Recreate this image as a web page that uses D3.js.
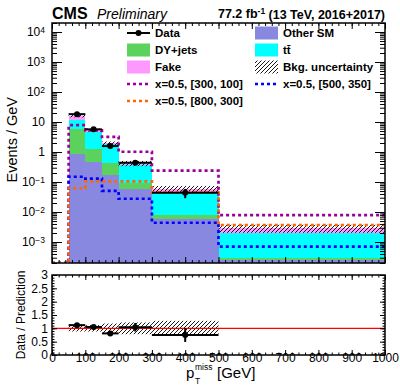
<!DOCTYPE html>
<html>
<head>
<meta charset="utf-8">
<script src="https://d3js.org/d3.v7.min.js"></script>
<style>
  body { margin: 0; background: #fff; }
  text { font-family: 'Liberation Sans', Arial, sans-serif; fill: #000; }
  .axis path { display: none; }
  .axis .tick line { stroke: #000; stroke-width: 1; }
  .axis .tick text { font-size: 12px; }
  .legend text { font-size: 11.5px; font-weight: bold; }
</style>
</head>
<body>
<script>
// ---- data ----
const binEdges = [50, 100, 150, 200, 300, 500, 1000];
const otherSM = [0.84, 0.48, 0.17, 0.057, 0.0057, 0.00025];
const dyJets  = [5.0, 0.75, 0.25, 0.034, 0.0022, 0.00005];
const ttbar   = [5.9, 3.3, 1.38, 0.29, 0.034, 0.00165];
const fake    = [4.5, 0.9, 0.15, 0.04, 0.016, 0.00095];
const bkgUnc  = [0.12, 0.12, 0.15, 0.2, 0.28, 0.3];
const dataVal = [18.3, 5.7, 1.58, 0.44, 0.044];
const dataErr = [0.6, 0.35, 0.18, 0.066, 0.015];

const sigEdges   = [0, 50, 100, 150, 200, 300, 500, 1000];
const sig300_100 = [0, 7.9, 5.3, 3.2, 1.02, 0.24, 0.0079];
const sig800_300 = [0, 0.062, 0.105, 0.105, 0.105, 0.045, 0.0037];
const sig500_350 = [0, 0.15, 0.13, 0.051, 0.0277, 0.0044, 0.0007];

const ratioVal = [1.12, 1.05, 0.81, 1.04, 0.75];
const ratioErr = [0.05, 0.05, 0.05, 0.16, 0.26];
const ratioUnc = [0.12, 0.12, 0.18, 0.22, 0.28];

const logTicks   = [1e4, 1e3, 1e2, 10, 1, 0.1, 0.01, 0.001];
const logLabels  = [['10','4'], ['10','3'], ['10','2'], ['10',''], ['1',''], ['10','\u22121'], ['10','\u22122'], ['10','\u22123']];
const xTicks     = [0, 100, 200, 300, 400, 500, 600, 700, 800, 900, 1000];
const ratioTicks = [0, 0.5, 1, 1.5, 2, 2.5, 3];

const colors = { other: '#8888e0', dy: '#5bd25b', tt: '#00ffff', fake: '#ff99ff' };
const sigColors = { a: '#990099', b: '#ff6600', c: '#0000ff' };

// ---- layout ----
const W = 400, H = 387;
const left = 52, right = 385;
const topY0 = 23, topY1 = 263;
const botY0 = 275, botY1 = 355;

const svg = d3.select('body').append('svg').attr('width', W).attr('height', H);

const x = d3.scaleLinear().domain([0, 1000]).range([left, right]);
const y = d3.scaleLog().domain([2e-4, 2e4]).range([topY1, topY0]).clamp(true);
const yr = d3.scaleLinear().domain([0, 3]).range([botY1, botY0]);
const yv = v => y(Math.max(v, y.domain()[0]));

const defs = svg.append('defs');
const pat = defs.append('pattern').attr('id', 'hatch')
  .attr('patternUnits', 'userSpaceOnUse').attr('width', 4).attr('height', 4);
pat.append('path').attr('d', 'M-1,1 l2,-2 M0,4 l4,-4 M3,5 l2,-2')
  .attr('stroke', '#000').attr('stroke-width', 0.9);
defs.append('clipPath').attr('id', 'clipTop').append('rect')
  .attr('x', left).attr('y', topY0).attr('width', right - left).attr('height', topY1 - topY0);
defs.append('clipPath').attr('id', 'clipBot').append('rect')
  .attr('x', left).attr('y', botY0).attr('width', right - left).attr('height', botY1 - botY0);

// ---- top panel ----
const bins = binEdges.slice(0, -1).map((lo, i) => ({
  lo, hi: binEdges[i + 1],
  other: otherSM[i], dy: dyJets[i], tt: ttbar[i], fake: fake[i]
}));
const series = d3.stack().keys(['other', 'dy', 'tt', 'fake'])(bins);

const gTop = svg.append('g').attr('clip-path', 'url(#clipTop)');
series.forEach(s => {
  gTop.append('g').attr('fill', colors[s.key]).attr('shape-rendering', 'crispEdges')
    .selectAll('rect').data(s).join('rect')
      .attr('x', d => x(d.data.lo))
      .attr('width', d => x(d.data.hi) - x(d.data.lo))
      .attr('y', d => yv(d[1]))
      .attr('height', d => yv(d[0]) - yv(d[1]));
});

// bkg uncertainty band
const totals = series[series.length - 1].map(d => d[1]);
gTop.append('g').selectAll('rect').data(bins).join('rect')
  .attr('fill', 'url(#hatch)')
  .attr('x', d => x(d.lo))
  .attr('width', d => x(d.hi) - x(d.lo))
  .attr('y', (d, i) => yv(totals[i] * (1 + bkgUnc[i])))
  .attr('height', (d, i) => yv(totals[i] * (1 - bkgUnc[i])) - yv(totals[i] * (1 + bkgUnc[i])));

// signal step lines
const stepLine = d3.line().curve(d3.curveStepAfter).x(d => x(d[0])).y(d => yv(d[1]));
function sigPts(vals) {
  const p = vals.map((v, i) => [sigEdges[i], v]);
  p.push([sigEdges[sigEdges.length - 1], vals[vals.length - 1]]);
  return p;
}
[[sig300_100, sigColors.a], [sig500_350, sigColors.c], [sig800_300, sigColors.b]].forEach(([vals, c]) => {
  gTop.append('path').attr('d', stepLine(sigPts(vals)))
    .attr('fill', 'none').attr('stroke', c)
    .attr('stroke-width', 2.7).attr('stroke-dasharray', '3,3');
});

// data points
const dataPts = dataVal.map((v, i) => ({ lo: binEdges[i], hi: binEdges[i + 1], v, e: dataErr[i] }));
const gData = gTop.append('g');
gData.selectAll('.hbar').data(dataPts).join('line')
  .attr('x1', d => x(d.lo)).attr('x2', d => x(d.hi))
  .attr('y1', d => y(d.v)).attr('y2', d => y(d.v))
  .attr('stroke', '#000').attr('stroke-width', 2);
gData.selectAll('.vbar').data(dataPts).join('line')
  .attr('x1', d => x((d.lo + d.hi) / 2)).attr('x2', d => x((d.lo + d.hi) / 2))
  .attr('y1', d => y(d.v + d.e)).attr('y2', d => y(d.v - d.e))
  .attr('stroke', '#000').attr('stroke-width', 2);
gData.selectAll('circle').data(dataPts).join('circle')
  .attr('cx', d => x((d.lo + d.hi) / 2)).attr('cy', d => y(d.v)).attr('r', 3).attr('fill', '#000');

// top axes
const minorLog = y.ticks().filter(t => !logTicks.some(m => Math.abs(m - t) / m < 1e-6));
const minorX = x.ticks(50);

const yAxisG = svg.append('g').attr('class', 'axis').attr('transform', `translate(${left},0)`)
  .call(d3.axisLeft(y).tickValues(logTicks).tickSize(-10).tickPadding(7).tickFormat(''));
yAxisG.selectAll('.tick text').each(function(d, i) {
  const t = d3.select(this).attr('text-anchor', 'end');
  t.append('tspan').text(logLabels[i][0]);
  if (logLabels[i][1]) t.append('tspan').attr('dy', '-0.45em').style('font-size', '8.5px').text(logLabels[i][1]);
});
svg.append('g').attr('class', 'axis').attr('transform', `translate(${left},0)`)
  .call(d3.axisLeft(y).tickValues(minorLog).tickSize(-5).tickFormat(''));
svg.append('g').attr('class', 'axis').attr('transform', `translate(${right},0)`)
  .call(d3.axisRight(y).tickValues(logTicks).tickSize(-10).tickFormat(''));
svg.append('g').attr('class', 'axis').attr('transform', `translate(${right},0)`)
  .call(d3.axisRight(y).tickValues(minorLog).tickSize(-5).tickFormat(''));
svg.append('g').attr('class', 'axis').attr('transform', `translate(0,${topY1})`)
  .call(d3.axisBottom(x).tickValues(xTicks).tickSize(-6).tickFormat(''));
svg.append('g').attr('class', 'axis').attr('transform', `translate(0,${topY1})`)
  .call(d3.axisBottom(x).tickValues(minorX).tickSize(-3).tickFormat(''));
svg.append('g').attr('class', 'axis').attr('transform', `translate(0,${topY0})`)
  .call(d3.axisTop(x).tickValues(xTicks).tickSize(-6).tickFormat(''));
svg.append('g').attr('class', 'axis').attr('transform', `translate(0,${topY0})`)
  .call(d3.axisTop(x).tickValues(minorX).tickSize(-3).tickFormat(''));

svg.append('rect').attr('x', left).attr('y', topY0).attr('width', right - left).attr('height', topY1 - topY0)
  .attr('fill', 'none').attr('stroke', '#000').attr('stroke-width', 1.5);

// ---- ratio panel ----
const gBot = svg.append('g').attr('clip-path', 'url(#clipBot)');
const ratioPts = ratioVal.map((v, i) => ({ lo: binEdges[i], hi: binEdges[i + 1], v, e: ratioErr[i], u: ratioUnc[i] }));
gBot.selectAll('rect').data(ratioPts).join('rect')
  .attr('fill', 'url(#hatch)')
  .attr('x', d => x(d.lo)).attr('width', d => x(d.hi) - x(d.lo))
  .attr('y', d => yr(1 + d.u)).attr('height', d => yr(1 - d.u) - yr(1 + d.u));
gBot.append('line').attr('x1', x(0)).attr('x2', x(1000)).attr('y1', yr(1)).attr('y2', yr(1))
  .attr('stroke', '#ff0000').attr('stroke-width', 1.2);
gBot.selectAll('.hbar').data(ratioPts).join('line')
  .attr('x1', d => x(d.lo)).attr('x2', d => x(d.hi))
  .attr('y1', d => yr(d.v)).attr('y2', d => yr(d.v))
  .attr('stroke', '#000').attr('stroke-width', 2);
gBot.selectAll('.vbar').data(ratioPts).join('line')
  .attr('x1', d => x((d.lo + d.hi) / 2)).attr('x2', d => x((d.lo + d.hi) / 2))
  .attr('y1', d => yr(d.v + d.e)).attr('y2', d => yr(d.v - d.e))
  .attr('stroke', '#000').attr('stroke-width', 2);
gBot.selectAll('circle').data(ratioPts).join('circle')
  .attr('cx', d => x((d.lo + d.hi) / 2)).attr('cy', d => yr(d.v)).attr('r', 3).attr('fill', '#000');

const minorR = yr.ticks(30);
svg.append('g').attr('class', 'axis').attr('transform', `translate(${left},0)`)
  .call(d3.axisLeft(yr).tickValues(ratioTicks).tickSize(-5).tickPadding(4).tickFormat(d3.format('~g')));
svg.append('g').attr('class', 'axis').attr('transform', `translate(${left},0)`)
  .call(d3.axisLeft(yr).tickValues(minorR).tickSize(-2.5).tickFormat(''));
svg.append('g').attr('class', 'axis').attr('transform', `translate(${right},0)`)
  .call(d3.axisRight(yr).tickValues(ratioTicks).tickSize(-5).tickFormat(''));
svg.append('g').attr('class', 'axis').attr('transform', `translate(${right},0)`)
  .call(d3.axisRight(yr).tickValues(minorR).tickSize(-2.5).tickFormat(''));
svg.append('g').attr('class', 'axis').attr('transform', `translate(0,${botY1})`)
  .call(d3.axisBottom(x).tickValues(xTicks).tickSize(-5).tickPadding(-1.5).tickFormat(d3.format('d')));
svg.append('g').attr('class', 'axis').attr('transform', `translate(0,${botY1})`)
  .call(d3.axisBottom(x).tickValues(minorX).tickSize(-2.5).tickFormat(''));
svg.append('g').attr('class', 'axis').attr('transform', `translate(0,${botY0})`)
  .call(d3.axisTop(x).tickValues(xTicks).tickSize(-5).tickFormat(''));
svg.append('g').attr('class', 'axis').attr('transform', `translate(0,${botY0})`)
  .call(d3.axisTop(x).tickValues(minorX).tickSize(-2.5).tickFormat(''));

svg.append('rect').attr('x', left).attr('y', botY0).attr('width', right - left).attr('height', botY1 - botY0)
  .attr('fill', 'none').attr('stroke', '#000').attr('stroke-width', 1.5);

// ---- titles ----
svg.append('text').attr('transform', 'rotate(-90)').attr('x', -97).attr('y', 17)
  .attr('text-anchor', 'end').style('font-size', '14.5px').text('Events / GeV');
svg.append('text').attr('transform', 'rotate(-90)').attr('x', -(botY0 + botY1) / 2).attr('y', 25)
  .attr('text-anchor', 'middle').style('font-size', '12px').text('Data / Prediction');

const xt = svg.append('g');
xt.append('text').attr('x', 186).attr('y', 378).style('font-size', '15px').text('p');
xt.append('text').attr('x', 195).attr('y', 369.5).style('font-size', '8.5px').text('miss');
xt.append('text').attr('x', 195).attr('y', 384).style('font-size', '8.5px').text('T');
xt.append('text').attr('x', 217).attr('y', 378).style('font-size', '15px').text('[GeV]');

svg.append('text').attr('x', 52).attr('y', 18.5).style('font-size', '16px').style('font-weight', 'bold').text('CMS');
svg.append('text').attr('x', 97).attr('y', 18.5).style('font-size', '14px').style('font-style', 'italic').text('Preliminary');
const lumi = svg.append('text').attr('x', right).attr('y', 17.5).attr('text-anchor', 'end')
  .style('font-size', '12.5px').style('font-weight', 'bold');
lumi.append('tspan').text('77.2 fb');
lumi.append('tspan').attr('dy', '-0.45em').style('font-size', '8.5px').text('-1');
lumi.append('tspan').attr('dy', '0.45em').text(' (13 TeV, 2016+2017)');

// ---- legend ----
const legendItems = [
  { col: 0, row: 0, type: 'data', label: 'Data' },
  { col: 0, row: 1, type: 'box', fill: colors.dy, label: 'DY+jets' },
  { col: 0, row: 2, type: 'box', fill: colors.fake, label: 'Fake' },
  { col: 0, row: 3, type: 'dash', color: sigColors.a, label: 'x=0.5, [300, 100]' },
  { col: 0, row: 4, type: 'dash', color: sigColors.b, label: 'x=0.5, [800, 300]' },
  { col: 1, row: 0, type: 'box', fill: colors.other, label: 'Other SM' },
  { col: 1, row: 1, type: 'box', fill: colors.tt, label: 'tt\u0304' },
  { col: 1, row: 2, type: 'box', fill: 'url(#hatch)', label: 'Bkg. uncertainty' },
  { col: 1, row: 3, type: 'dash', color: sigColors.c, label: 'x=0.5, [500, 350]' }
];
const colX = [127, 255], rowY0 = 33, rowH = 17, keyW = 23, keyH = 13;
const lg = svg.append('g').attr('class', 'legend');
legendItems.forEach(it => {
  const gx = colX[it.col], gy = rowY0 + it.row * rowH;
  const g = lg.append('g').attr('transform', `translate(${gx},${gy})`);
  if (it.type === 'box') {
    g.append('rect').attr('x', 0).attr('y', -keyH / 2).attr('width', keyW).attr('height', keyH).attr('fill', it.fill);
  } else if (it.type === 'dash') {
    g.append('line').attr('x1', 0).attr('x2', keyW).attr('y1', 0).attr('y2', 0)
      .attr('stroke', it.color).attr('stroke-width', 2.7).attr('stroke-dasharray', '3,3');
  } else {
    g.append('line').attr('x1', 0).attr('x2', keyW).attr('y1', 0).attr('y2', 0).attr('stroke', '#000').attr('stroke-width', 2);
    g.append('circle').attr('cx', keyW / 2).attr('cy', 0).attr('r', 3).attr('fill', '#000');
  }
  g.append('text').attr('x', keyW + 5).attr('y', 0).attr('dy', '0.36em').text(it.label);
});
</script>
</body>
</html>
